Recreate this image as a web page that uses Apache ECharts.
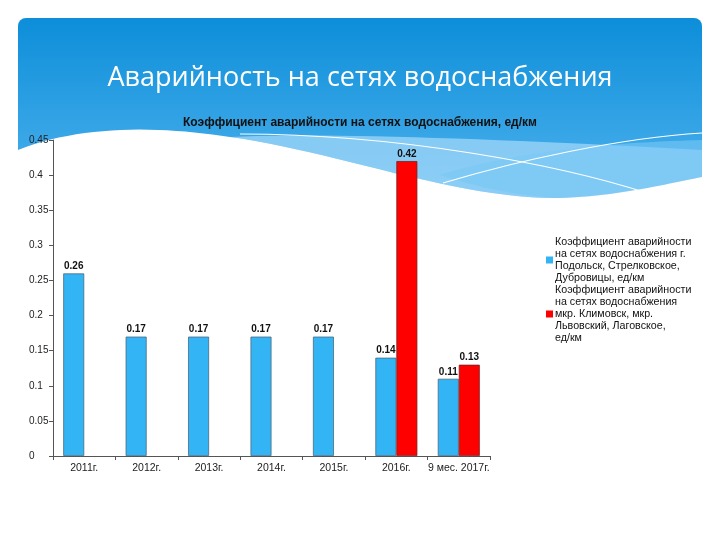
<!DOCTYPE html>
<html>
<head>
<meta charset="utf-8">
<script src="https://cdn.jsdelivr.net/npm/echarts@6/dist/echarts.min.js"></script>
<style>html,body{margin:0;padding:0;background:#fff;}#c{width:720px;height:540px;}</style>
</head>
<body>
<div id="c"></div>
<script>
var slideTitle = 'Аварийность на сетях водоснабжения';
var chartTitle = 'Коэффициент аварийности на сетях водоснабжения, ед/км';
var categories = ['2011г.', '2012г.', '2013г.', '2014г.', '2015г.', '2016г.', '9 мес. 2017г.'];
var seriesNames = [
  'Коэффициент аварийности на сетях водоснабжения г. Подольск, Стрелковское, Дубровицы, ед/км',
  'Коэффициент аварийности на сетях водоснабжения мкр. Климовск, мкр. Львовский, Лаговское, ед/км'
];
var legendText = [
  'Коэффициент аварийности\nна сетях водоснабжения г.\nПодольск, Стрелковское,\nДубровицы, ед/км',
  'Коэффициент аварийности\nна сетях водоснабжения\nмкр. Климовск, мкр.\nЛьвовский, Лаговское,\nед/км'
];
var podolskValues = [0.26, 0.17, 0.17, 0.17, 0.17, 0.14, 0.11];
var klimovskValues = [null, null, null, null, null, 0.42, 0.13];

// decorative wave: sample cubic bezier segments into polygon points
function bez(segs) {
  var pts = [];
  segs.forEach(function (s) {
    if (s.length === 2) { pts.push(s); return; }
    var p0 = pts[pts.length - 1];
    for (var i = 1; i <= 24; i++) {
      var t = i / 24, u = 1 - t;
      pts.push([
        u*u*u*p0[0] + 3*u*u*t*s[0] + 3*u*t*t*s[2] + t*t*t*s[4],
        u*u*u*p0[1] + 3*u*u*t*s[1] + 3*u*t*t*s[3] + t*t*t*s[5]
      ]);
    }
  });
  return pts;
}
var whiteEdge = [[18,150],[80,125,160,126,230,137],[330,150,460,200,560,198],[620,196,670,183,702,177]];
var band1 = bez([[230,137],[330,132,520,140,702,150],[702,177],[670,183,620,196,560,198],[460,200,330,150,230,137]]);
var band2 = bez([[440,175],[520,150,620,142,702,140],[702,177],[670,183,620,196,560,198],[520,196,480,188,440,175]]);
var whiteShape = bez(whiteEdge.concat([[702,240],[18,240]]));

var chart = echarts.init(document.getElementById('c'), null, {renderer: 'canvas'});

var labelStyle = {show: true, position: 'top', distance: 2, fontSize: 10, fontWeight: 'bold', color: '#111', fontFamily: 'Liberation Sans, Arial, sans-serif'};

chart.setOption({
  backgroundColor: '#ffffff',
  animation: false,
  graphic: [
    {type: 'rect', z: -10, silent: true,
      shape: {x: 18, y: 18, width: 684, height: 200, r: 8},
      style: {fill: new echarts.graphic.LinearGradient(0, 0, 0, 1, [{offset: 0, color: '#0d8ed9'}, {offset: 1, color: '#55b6f0'}])}},
    {type: 'polygon', z: -9, silent: true, shape: {points: band1}, style: {fill: 'rgba(160,215,248,0.75)'}},
    {type: 'polygon', z: -9, silent: true, shape: {points: band2}, style: {fill: 'rgba(120,200,245,0.6)'}},
    {type: 'polygon', z: -8, silent: true, shape: {points: whiteShape}, style: {fill: '#ffffff'}},
    {type: 'bezierCurve', z: -7, silent: true,
      shape: {x1: 240, y1: 134, cpx1: 400, cpy1: 134, cpx2: 560, cpy2: 165, x2: 647, y2: 193},
      style: {fill: null, stroke: '#ffffff', lineWidth: 1.2}},
    {type: 'bezierCurve', z: -7, silent: true,
      shape: {x1: 443, y1: 183, cpx1: 520, cpy1: 160, cpx2: 620, cpy2: 138, x2: 702, y2: 133},
      style: {fill: null, stroke: '#ffffff', lineWidth: 1.2}},
    {type: 'text', z: 10, silent: true,
      style: {text: slideTitle, x: 360, y: 78, textAlign: 'center', textVerticalAlign: 'middle',
        fill: '#ffffff', fontSize: 27, fontFamily: 'Open Sans, sans-serif'}}
  ],
  title: {
    text: chartTitle, left: 'center', top: 117, padding: 0,
    textStyle: {fontSize: 12, fontWeight: 'bold', color: '#111', fontFamily: 'Liberation Sans, Arial, sans-serif'}
  },
  legend: {
    orient: 'vertical', left: 546, top: 236, padding: 0, itemGap: 0, itemWidth: 7, itemHeight: 7,
    icon: 'rect',
    data: seriesNames,
    itemStyle: {borderWidth: 0},
    formatter: function (name) { return legendText[seriesNames.indexOf(name)]; },
    textStyle: {fontSize: 10.7, lineHeight: 12, color: '#111', padding: [0, 0, 0, -3], fontFamily: 'Liberation Sans, Arial, sans-serif'}
  },
  grid: {left: 53, right: 230, top: 140, bottom: 84, containLabel: false},
  xAxis: {
    type: 'category', data: categories,
    axisLine: {show: true, lineStyle: {color: '#555', width: 1}},
    axisTick: {show: true, length: 4, lineStyle: {color: '#555'}},
    axisLabel: {fontSize: 10.5, color: '#222', margin: 7, interval: 0, fontFamily: 'Liberation Sans, Arial, sans-serif'}
  },
  yAxis: {
    type: 'value', min: 0, max: 0.45, interval: 0.05,
    axisLine: {show: true, lineStyle: {color: '#555', width: 1}},
    axisTick: {show: true, length: 4, lineStyle: {color: '#555'}},
    splitLine: {show: false},
    axisLabel: {fontSize: 10, color: '#222', align: 'left', margin: 24, fontFamily: 'Liberation Sans, Arial, sans-serif'}
  },
  series: [
    {name: seriesNames[0], type: 'bar', data: podolskValues, barWidth: 21, barGap: '0%',
      itemStyle: {color: '#33b5f5', borderColor: '#4a6a80', borderWidth: 0.8}, label: labelStyle},
    {name: seriesNames[1], type: 'bar', data: klimovskValues, barWidth: 21, barGap: '0%',
      itemStyle: {color: '#ff0000', borderColor: '#7a2020', borderWidth: 0.8}, label: labelStyle}
  ]
});
</script>
</body>
</html>
